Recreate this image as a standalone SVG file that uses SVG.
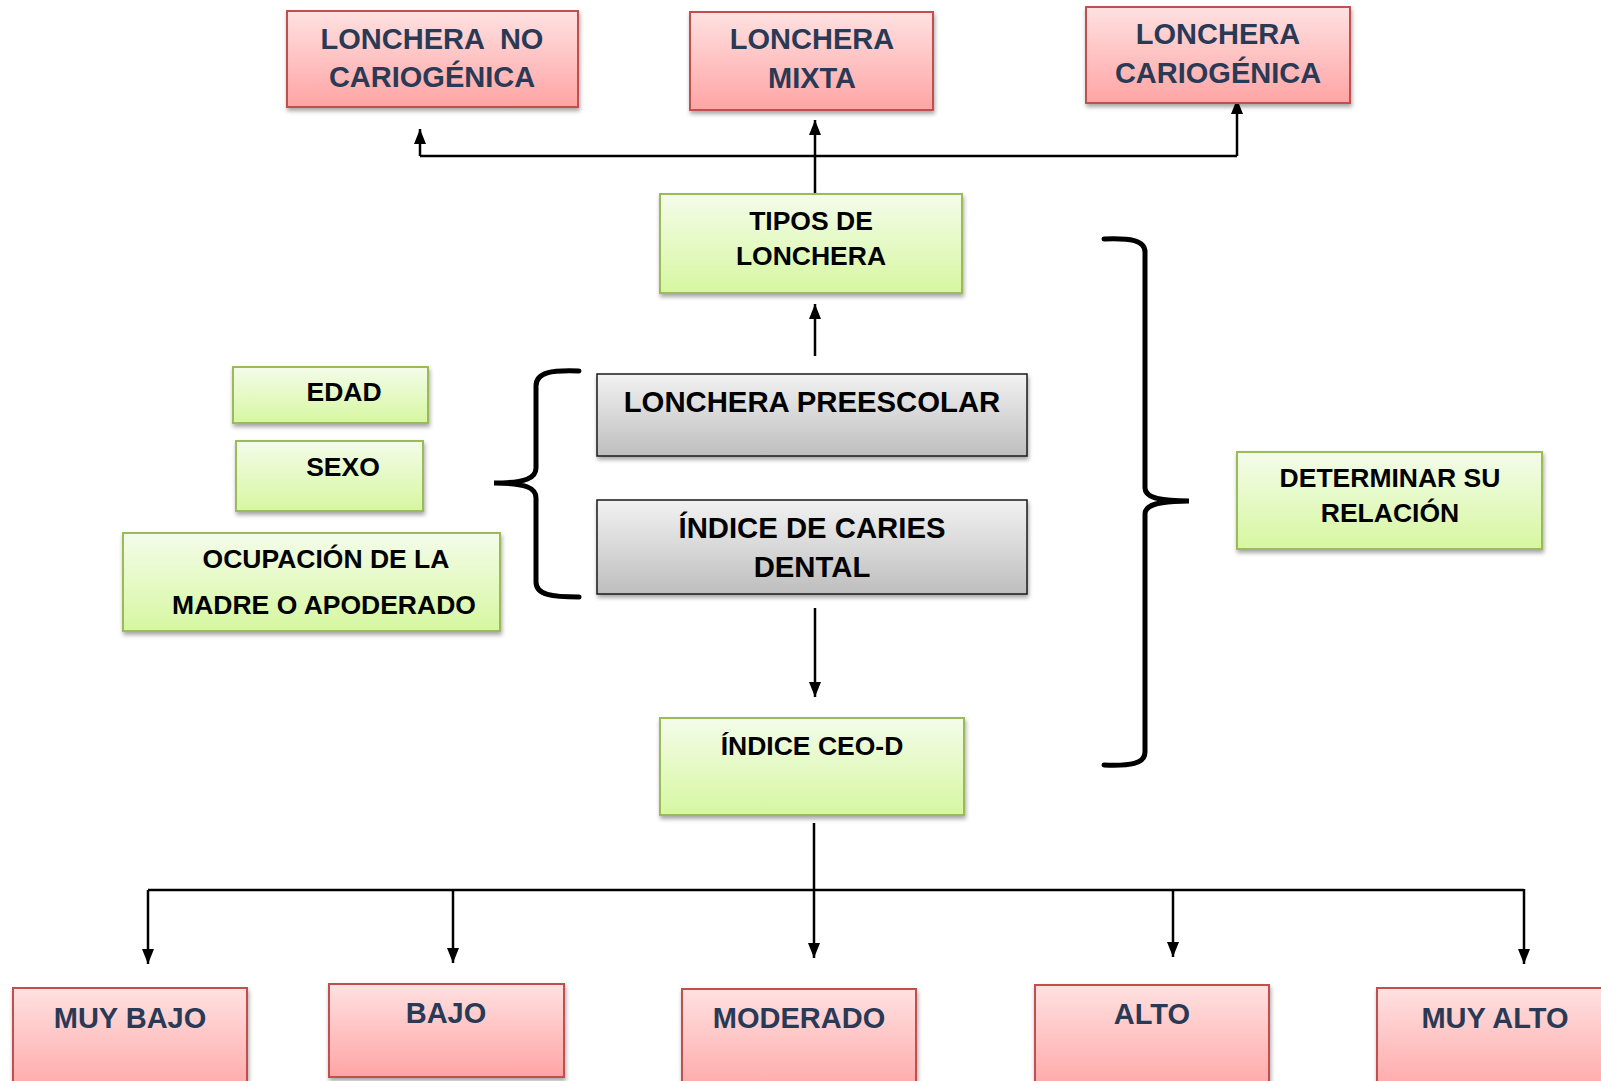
<svg xmlns="http://www.w3.org/2000/svg" width="1601" height="1081" viewBox="0 0 1601 1081">
<defs>
<linearGradient id="gRed" x1="0" y1="0" x2="0" y2="1"><stop offset="0" stop-color="#FFE1E1"/><stop offset="1" stop-color="#FFA4A4"/></linearGradient>
<linearGradient id="gGreen" x1="0" y1="0" x2="0" y2="1"><stop offset="0" stop-color="#F4FCEA"/><stop offset="1" stop-color="#D6F7A0"/></linearGradient>
<linearGradient id="gGray" x1="0" y1="0" x2="0" y2="1"><stop offset="0" stop-color="#F2F2F2"/><stop offset="1" stop-color="#BEBEBE"/></linearGradient>
<filter id="sh" x="-10%" y="-10%" width="120%" height="130%"><feDropShadow dx="1" dy="3" stdDeviation="2" flood-color="#000" flood-opacity="0.35"/></filter>
<marker id="arr" viewBox="0 0 15 12" refX="15" refY="6" markerWidth="15" markerHeight="12" markerUnits="userSpaceOnUse" orient="auto"><path d="M0,0 L15,6 L0,12 z" fill="#000"/></marker>
</defs>
<style>
.red{fill:url(#gRed);stroke:#C0504D;stroke-width:2;filter:url(#sh)}
.green{fill:url(#gGreen);stroke:#9BBB59;stroke-width:2;filter:url(#sh)}
.gray{fill:url(#gGray);stroke:#1a1a1a;stroke-width:1.5;filter:url(#sh)}
text{font-family:"Liberation Sans",Arial,sans-serif;font-weight:bold;text-anchor:middle}
.tr{fill:#283A56;font-size:29px}
.tk{fill:#000;font-size:26.5px}
.tk29{fill:#000;font-size:29.3px}
.ln{fill:none;stroke:#000;stroke-width:2.5}
.br{fill:none;stroke:#000;stroke-width:5;stroke-linecap:round}
</style>
<rect width="1601" height="1081" fill="#fff"/>
<g id="connectors">
<line class="ln" x1="815" y1="194" x2="815" y2="120" marker-end="url(#arr)"/>
<polyline class="ln" points="420,156 1237,156"/>
<line class="ln" x1="420" y1="156" x2="420" y2="129" marker-end="url(#arr)"/>
<line class="ln" x1="1237" y1="156" x2="1237" y2="99" marker-end="url(#arr)"/>
<line class="ln" x1="815" y1="356" x2="815" y2="304" marker-end="url(#arr)"/>
<line class="ln" x1="815" y1="608" x2="815" y2="697" marker-end="url(#arr)"/>
<line class="ln" x1="814" y1="823" x2="814" y2="958" marker-end="url(#arr)"/>
<polyline class="ln" points="148,890 1524,890"/>
<line class="ln" x1="148" y1="890" x2="148" y2="964" marker-end="url(#arr)"/>
<line class="ln" x1="453" y1="890" x2="453" y2="963" marker-end="url(#arr)"/>
<line class="ln" x1="1173" y1="890" x2="1173" y2="957" marker-end="url(#arr)"/>
<line class="ln" x1="1524" y1="889" x2="1524" y2="964" marker-end="url(#arr)"/>
<path id="brace-left" class="br" d="M579,371 C552,370 536,372 536,386 L536,468 C536,478 526,483 494,483 C526,483 536,488 536,498 L536,582 C536,595 552,597 579,597"/>
<path id="brace-right" class="br" d="M1104,239 C1130,238 1145,240 1145,252 L1145,488 C1145,497 1157,501 1189,501 C1157,501 1145,505 1145,514 L1145,752 C1145,764 1130,766 1104,765"/>
</g>
<g id="n-no-cariogenica"><rect class="red" x="287" y="11" width="291" height="96"/><text class="tr" x="432" y="49" xml:space="preserve">LONCHERA  NO</text><text class="tr" x="432" y="87">CARIOGÉNICA</text></g>
<g id="n-mixta"><rect class="red" x="690" y="12" width="243" height="98"/><text class="tr" x="812" y="49">LONCHERA</text><text class="tr" x="812" y="88">MIXTA</text></g>
<g id="n-cariogenica"><rect class="red" x="1086" y="7" width="264" height="96"/><text class="tr" x="1218" y="44">LONCHERA</text><text class="tr" x="1218" y="83">CARIOGÉNICA</text></g>
<g id="n-tipos"><rect class="green" x="660" y="194" width="302" height="99"/><text class="tk" x="811" y="230">TIPOS DE</text><text class="tk" x="811" y="265">LONCHERA</text></g>
<g id="n-edad"><rect class="green" x="233" y="367" width="195" height="56"/><text class="tk" x="344" y="401">EDAD</text></g>
<g id="n-sexo"><rect class="green" x="236" y="441" width="187" height="70"/><text class="tk" x="343" y="476">SEXO</text></g>
<g id="n-ocupacion"><rect class="green" x="123" y="533" width="377" height="98"/><text class="tk" x="326" y="568">OCUPACIÓN DE LA</text><text class="tk" x="324" y="614">MADRE O APODERADO</text></g>
<g id="n-preescolar"><rect class="gray" x="597" y="374" width="430" height="82"/><text class="tk29" x="812" y="412">LONCHERA PREESCOLAR</text></g>
<g id="n-caries"><rect class="gray" x="597" y="500" width="430" height="94"/><text class="tk29" x="812" y="538">ÍNDICE DE CARIES</text><text class="tk29" x="812" y="577">DENTAL</text></g>
<g id="n-ceod"><rect class="green" x="660" y="718" width="304" height="97"/><text class="tk" x="812" y="755">ÍNDICE CEO-D</text></g>
<g id="n-determinar"><rect class="green" x="1237" y="452" width="305" height="97"/><text class="tk" x="1390" y="487">DETERMINAR SU</text><text class="tk" x="1390" y="522">RELACIÓN</text></g>
<g id="n-muy-bajo"><rect class="red" x="13" y="988" width="234" height="110"/><text class="tr" x="130" y="1028">MUY BAJO</text></g>
<g id="n-bajo"><rect class="red" x="329" y="984" width="235" height="93"/><text class="tr" x="446" y="1023">BAJO</text></g>
<g id="n-moderado"><rect class="red" x="682" y="989" width="234" height="110"/><text class="tr" x="799" y="1028">MODERADO</text></g>
<g id="n-alto"><rect class="red" x="1035" y="985" width="234" height="110"/><text class="tr" x="1152" y="1024">ALTO</text></g>
<g id="n-muy-alto"><rect class="red" x="1377" y="988" width="236" height="110"/><text class="tr" x="1495" y="1028">MUY ALTO</text></g>
</svg>
